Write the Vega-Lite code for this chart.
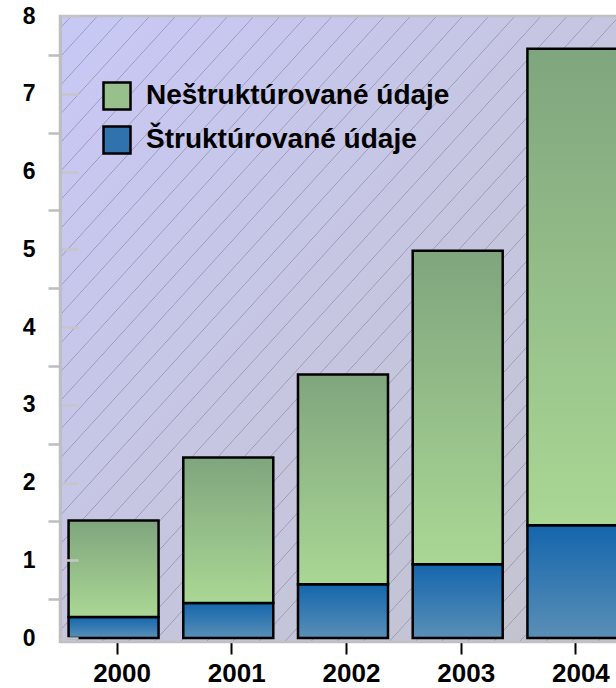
{
  "$schema": "https://vega.github.io/schema/vega-lite/v6.json",
  "width": 556,
  "height": 622,
  "autosize": "none",
  "padding": {"left": 60, "top": 16, "right": 0, "bottom": 50},
  "background": "white",
  "config": {
    "view": {"stroke": null},
    "axisX": {
      "title": null, "domain": false, "grid": false, "ticks": true, "tickSize": 16, "tickColor": "black", "tickWidth": 2,
      "tickOffset": 3, "labelOffset": 5, "labelPadding": 6, "labelFlush": false, "labelOverlap": false,
      "labelFont": "Liberation Sans", "labelFontSize": 26, "labelFontWeight": "bold", "labelColor": "black",
      "zindex": 1
    }
  },
  "data": {
    "values": [
      {"year": 2000, "type": "Štruktúrované údaje", "value": 0.27},
      {"year": 2000, "type": "Neštruktúrované údaje", "value": 1.24},
      {"year": 2001, "type": "Štruktúrované údaje", "value": 0.45},
      {"year": 2001, "type": "Neštruktúrované údaje", "value": 1.87},
      {"year": 2002, "type": "Štruktúrované údaje", "value": 0.69},
      {"year": 2002, "type": "Neštruktúrované údaje", "value": 2.70},
      {"year": 2003, "type": "Štruktúrované údaje", "value": 0.95},
      {"year": 2003, "type": "Neštruktúrované údaje", "value": 4.03},
      {"year": 2004, "type": "Štruktúrované údaje", "value": 1.45},
      {"year": 2004, "type": "Neštruktúrované údaje", "value": 6.13}
    ]
  },
  "resolve": {"axis": {"y": "independent"}},
  "layer": [
    {
      "data": {"values": [{}]},
      "mark": {
        "type": "rect",
        "stroke": "#bfbfc4",
        "strokeWidth": 2.5,
        "fill": {
          "gradient": "linear", "x1": 0, "y1": 0, "x2": 1, "y2": 1,
          "stops": [
            {"offset": 0, "color": "#c8c8f6"},
            {"offset": 0.0092, "color": "#c8c8f6"}, {"offset": 0.0100, "color": "#9a9ab6"}, {"offset": 0.0108, "color": "#c8c8f6"},
            {"offset": 0.0321, "color": "#c8c8f5"}, {"offset": 0.0329, "color": "#9a9ab6"}, {"offset": 0.0337, "color": "#c8c8f5"},
            {"offset": 0.0550, "color": "#c8c8f4"}, {"offset": 0.0558, "color": "#9a9ab6"}, {"offset": 0.0566, "color": "#c8c8f4"},
            {"offset": 0.0779, "color": "#c8c8f3"}, {"offset": 0.0787, "color": "#9a9ab6"}, {"offset": 0.0795, "color": "#c8c8f3"},
            {"offset": 0.1008, "color": "#c7c7f2"}, {"offset": 0.1016, "color": "#9a9ab6"}, {"offset": 0.1024, "color": "#c7c7f2"},
            {"offset": 0.1237, "color": "#c7c7f1"}, {"offset": 0.1245, "color": "#9a9ab6"}, {"offset": 0.1253, "color": "#c7c7f1"},
            {"offset": 0.1466, "color": "#c7c7f0"}, {"offset": 0.1474, "color": "#9a9ab6"}, {"offset": 0.1482, "color": "#c7c7f0"},
            {"offset": 0.1695, "color": "#c7c7ef"}, {"offset": 0.1703, "color": "#9a9ab6"}, {"offset": 0.1711, "color": "#c7c7ef"},
            {"offset": 0.1924, "color": "#c7c7ee"}, {"offset": 0.1932, "color": "#9a9ab6"}, {"offset": 0.1940, "color": "#c7c7ee"},
            {"offset": 0.2153, "color": "#c7c7ed"}, {"offset": 0.2161, "color": "#9a9ab6"}, {"offset": 0.2169, "color": "#c7c7ed"},
            {"offset": 0.2382, "color": "#c7c7ec"}, {"offset": 0.2390, "color": "#9a9ab6"}, {"offset": 0.2398, "color": "#c7c7ec"},
            {"offset": 0.2611, "color": "#c7c7eb"}, {"offset": 0.2619, "color": "#9a9ab6"}, {"offset": 0.2627, "color": "#c7c7eb"},
            {"offset": 0.2840, "color": "#c7c7ea"}, {"offset": 0.2848, "color": "#9a9ab6"}, {"offset": 0.2856, "color": "#c7c7ea"},
            {"offset": 0.3069, "color": "#c6c6e9"}, {"offset": 0.3077, "color": "#9a9ab6"}, {"offset": 0.3085, "color": "#c6c6e9"},
            {"offset": 0.3298, "color": "#c6c6e8"}, {"offset": 0.3306, "color": "#9a9ab6"}, {"offset": 0.3314, "color": "#c6c6e8"},
            {"offset": 0.3527, "color": "#c6c6e7"}, {"offset": 0.3535, "color": "#9a9ab6"}, {"offset": 0.3543, "color": "#c6c6e7"},
            {"offset": 0.3756, "color": "#c6c6e6"}, {"offset": 0.3764, "color": "#9a9ab6"}, {"offset": 0.3772, "color": "#c6c6e6"},
            {"offset": 0.3985, "color": "#c6c6e5"}, {"offset": 0.3993, "color": "#9a9ab6"}, {"offset": 0.4001, "color": "#c6c6e5"},
            {"offset": 0.4214, "color": "#c6c6e4"}, {"offset": 0.4222, "color": "#9a9ab6"}, {"offset": 0.4230, "color": "#c6c6e4"},
            {"offset": 0.4443, "color": "#c6c6e3"}, {"offset": 0.4451, "color": "#9a9ab6"}, {"offset": 0.4459, "color": "#c6c6e3"},
            {"offset": 0.4672, "color": "#c6c6e2"}, {"offset": 0.4680, "color": "#9a9ab6"}, {"offset": 0.4688, "color": "#c6c6e2"},
            {"offset": 0.4901, "color": "#c6c6e1"}, {"offset": 0.4909, "color": "#9a9ab6"}, {"offset": 0.4917, "color": "#c6c6e1"},
            {"offset": 0.5130, "color": "#c5c5e0"}, {"offset": 0.5138, "color": "#9a9ab6"}, {"offset": 0.5146, "color": "#c5c5e0"},
            {"offset": 0.5359, "color": "#c5c5df"}, {"offset": 0.5367, "color": "#9a9ab6"}, {"offset": 0.5375, "color": "#c5c5df"},
            {"offset": 0.5588, "color": "#c5c5de"}, {"offset": 0.5596, "color": "#9a9ab6"}, {"offset": 0.5604, "color": "#c5c5de"},
            {"offset": 0.5817, "color": "#c5c5de"}, {"offset": 0.5825, "color": "#9a9ab6"}, {"offset": 0.5833, "color": "#c5c5de"},
            {"offset": 0.6046, "color": "#c5c5dd"}, {"offset": 0.6054, "color": "#9a9ab6"}, {"offset": 0.6062, "color": "#c5c5dd"},
            {"offset": 0.6275, "color": "#c5c5dc"}, {"offset": 0.6283, "color": "#9a9ab6"}, {"offset": 0.6291, "color": "#c5c5dc"},
            {"offset": 0.6504, "color": "#c5c5db"}, {"offset": 0.6512, "color": "#9a9ab6"}, {"offset": 0.6520, "color": "#c5c5db"},
            {"offset": 0.6733, "color": "#c5c5da"}, {"offset": 0.6741, "color": "#9a9ab6"}, {"offset": 0.6749, "color": "#c5c5da"},
            {"offset": 0.6962, "color": "#c5c5d9"}, {"offset": 0.6970, "color": "#9a9ab6"}, {"offset": 0.6978, "color": "#c5c5d9"},
            {"offset": 0.7191, "color": "#c4c4d8"}, {"offset": 0.7199, "color": "#9a9ab6"}, {"offset": 0.7207, "color": "#c4c4d8"},
            {"offset": 0.7420, "color": "#c4c4d7"}, {"offset": 0.7428, "color": "#9a9ab6"}, {"offset": 0.7436, "color": "#c4c4d7"},
            {"offset": 0.7649, "color": "#c4c4d6"}, {"offset": 0.7657, "color": "#9a9ab6"}, {"offset": 0.7665, "color": "#c4c4d6"},
            {"offset": 0.7878, "color": "#c4c4d5"}, {"offset": 0.7886, "color": "#9a9ab6"}, {"offset": 0.7894, "color": "#c4c4d5"},
            {"offset": 0.8107, "color": "#c4c4d4"}, {"offset": 0.8115, "color": "#9a9ab6"}, {"offset": 0.8123, "color": "#c4c4d4"},
            {"offset": 0.8336, "color": "#c4c4d3"}, {"offset": 0.8344, "color": "#9a9ab6"}, {"offset": 0.8352, "color": "#c4c4d3"},
            {"offset": 0.8565, "color": "#c4c4d2"}, {"offset": 0.8573, "color": "#9a9ab6"}, {"offset": 0.8581, "color": "#c4c4d2"},
            {"offset": 0.8794, "color": "#c4c4d1"}, {"offset": 0.8802, "color": "#9a9ab6"}, {"offset": 0.8810, "color": "#c4c4d1"},
            {"offset": 0.9023, "color": "#c3c3d0"}, {"offset": 0.9031, "color": "#9a9ab6"}, {"offset": 0.9039, "color": "#c3c3d0"},
            {"offset": 0.9252, "color": "#c3c3cf"}, {"offset": 0.9260, "color": "#9a9ab6"}, {"offset": 0.9268, "color": "#c3c3cf"},
            {"offset": 0.9481, "color": "#c3c3ce"}, {"offset": 0.9489, "color": "#9a9ab6"}, {"offset": 0.9497, "color": "#c3c3ce"},
            {"offset": 0.9710, "color": "#c3c3cd"}, {"offset": 0.9718, "color": "#9a9ab6"}, {"offset": 0.9726, "color": "#c3c3cd"},
            {"offset": 0.9939, "color": "#c3c3cc"}, {"offset": 0.9947, "color": "#9a9ab6"}, {"offset": 0.9955, "color": "#c3c3cc"},
            {"offset": 1, "color": "#c3c3cc"}
          ]
        }
      },
      "encoding": {
        "x": {"datum": 1999.533, "type": "quantitative", "scale": {"domain": [1999.533, 2004.38], "nice": false, "zero": false, "padding": 0}, "axis": {"values": [2000, 2001, 2002, 2003, 2004], "format": "d"}},
        "x2": {"datum": 2004.5},
        "y": {"datum": 8, "type": "quantitative", "scale": {"domain": [0, 8], "nice": false}, "axis": null},
        "y2": {"datum": -0.05}
      }
    },
    {
      "transform": [
        {"stack": "value", "groupby": ["year"], "sort": [{"field": "type", "order": "descending"}], "as": ["v0", "v1"]},
        {"filter": "datum.type === 'Štruktúrované údaje'"}
      ],
      "mark": {
        "type": "bar", "size": 90, "stroke": "black", "strokeWidth": 2.5,
        "fill": {"gradient": "linear", "x1": 0, "y1": 0, "x2": 0, "y2": 1, "stops": [{"offset": 0, "color": "#1466ad"}, {"offset": 1, "color": "#5a8fb6"}]}
      },
      "encoding": {
        "x": {
          "field": "year", "type": "quantitative",
          "scale": {"domain": [1999.533, 2004.38], "nice": false, "zero": false, "padding": 0},
          "axis": {"values": [2000, 2001, 2002, 2003, 2004], "format": "d"}
        },
        "y": {
          "field": "v1", "type": "quantitative",
          "scale": {"domain": [0, 8], "nice": false},
          "axis": {
            "title": null, "orient": "left",
            "values": [0, 1, 2, 3, 4, 5, 6, 7, 8],
            "domain": true, "domainColor": "#bdbdc2", "domainWidth": 3,
            "ticks": false,
            "grid": true, "gridColor": "#c6c6ca", "gridWidth": 2.5, "gridDash": [18, 3000],
            "labelPadding": 25, "labelOverlap": false,
            "labelFont": "Liberation Sans", "labelFontSize": 23, "labelFontWeight": "bold", "labelColor": "black",
            "zindex": 1
          }
        },
        "y2": {"field": "v0"}
      }
    },
    {
      "transform": [
        {"stack": "value", "groupby": ["year"], "sort": [{"field": "type", "order": "descending"}], "as": ["v0", "v1"]},
        {"filter": "datum.type === 'Neštruktúrované údaje'"}
      ],
      "mark": {
        "type": "bar", "size": 90, "stroke": "black", "strokeWidth": 2.5,
        "fill": {"gradient": "linear", "x1": 0, "y1": 0, "x2": 0, "y2": 1, "stops": [{"offset": 0, "color": "#7fa57e"}, {"offset": 1, "color": "#aad794"}]}
      },
      "encoding": {
        "x": {"field": "year", "type": "quantitative", "scale": {"domain": [1999.533, 2004.38], "nice": false, "zero": false, "padding": 0}, "axis": {"values": [2000, 2001, 2002, 2003, 2004], "format": "d"}},
        "y": {"field": "v1", "type": "quantitative", "scale": {"domain": [0, 8], "nice": false}, "axis": null},
        "y2": {"field": "v0"}
      }
    },
    {
      "transform": [
        {"stack": "value", "groupby": ["year"], "sort": [{"field": "type", "order": "descending"}], "as": ["v0", "v1"]}
      ],
      "mark": {"type": "bar", "size": 90, "opacity": 0, "stroke": "black", "strokeWidth": 2.5},
      "encoding": {
        "x": {"field": "year", "type": "quantitative", "scale": {"domain": [1999.533, 2004.38], "nice": false, "zero": false, "padding": 0}, "axis": {"values": [2000, 2001, 2002, 2003, 2004], "format": "d"}},
        "y": {
          "field": "v1", "type": "quantitative",
          "scale": {"domain": [0, 8], "nice": false},
          "axis": {
            "title": null, "orient": "left",
            "values": [0.5, 1.5, 2.5, 3.5, 4.5, 5.5, 6.5, 7.5],
            "domain": false, "grid": false, "labels": false,
            "ticks": true, "tickSize": 12, "tickColor": "#bdbdc2", "tickWidth": 2.5,
            "zindex": 1
          }
        },
        "y2": {"field": "v0"},
        "color": {
          "field": "type", "type": "nominal",
          "scale": {"domain": ["Neštruktúrované údaje", "Štruktúrované údaje"], "range": ["#98c08c", "#2f72ae"]},
          "legend": {
            "title": null, "orient": "none", "legendX": 42, "legendY": 65, "padding": 0,
            "symbolType": "square", "symbolSize": 729, "symbolStrokeColor": "black", "symbolStrokeWidth": 2.5,
            "symbolOpacity": 1,
            "labelFont": "Liberation Sans", "labelFontSize": 28, "labelFontWeight": "bold", "labelColor": "black",
            "labelOffset": 14, "labelLimit": 600, "rowPadding": 6
          }
        }
      }
    }
  ]
}
